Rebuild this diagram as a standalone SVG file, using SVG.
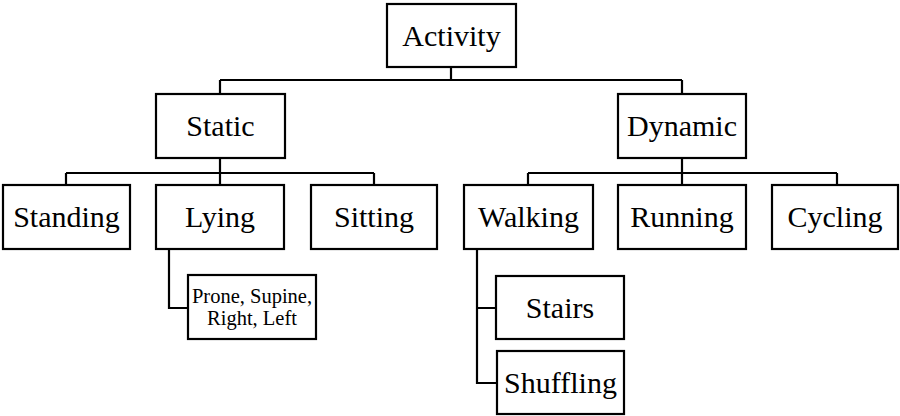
<svg xmlns="http://www.w3.org/2000/svg" width="900" height="416" viewBox="0 0 900 416">
<style>
.box{fill:#fff;stroke:#000;stroke-width:2.2}
.lbl{font-family:'Liberation Serif','Times New Roman',Times,'Nimbus Roman','DejaVu Serif',serif;font-size:30px;fill:#000;text-anchor:middle}
.sm{font-family:'Liberation Serif','Times New Roman',Times,'Nimbus Roman','DejaVu Serif',serif;font-size:20.5px;fill:#000;text-anchor:middle}
.ln{fill:none;stroke:#000;stroke-width:2.2}
</style>
<rect width="900" height="416" fill="#fff"/>
<g id="connectors">
<path class="ln" d="M451,67 V80 M220,80 H682 M220,80 V94 M682,80 V94"/>
<path class="ln" d="M220,158 V185 M66,173 H374 M66,173 V185 M374,173 V185"/>
<path class="ln" d="M682,158 V185 M528,173 H837 M528,173 V185 M837,173 V185"/>
<path class="ln" d="M169,249 V308 H188"/>
<path class="ln" d="M477,249 V383 H497 M477,308 H496"/>
</g>
<g id="activity"><rect class="box" x="387" y="4" width="129" height="63"/><text class="lbl" x="451.5" y="45.5" font-family="Liberation Serif">Activity</text></g>
<g id="static"><rect class="box" x="156" y="94" width="129" height="64"/><text class="lbl" x="220.5" y="136">Static</text></g>
<g id="dynamic"><rect class="box" x="618" y="94" width="128" height="64"/><text class="lbl" x="682" y="136">Dynamic</text></g>
<g id="standing"><rect class="box" x="3" y="185" width="127" height="64"/><text class="lbl" x="66.5" y="227">Standing</text></g>
<g id="lying"><rect class="box" x="156" y="185" width="128" height="64"/><text class="lbl" x="220" y="227">Lying</text></g>
<g id="sitting"><rect class="box" x="311" y="185" width="126" height="64"/><text class="lbl" x="374" y="227">Sitting</text></g>
<g id="walking"><rect class="box" x="464" y="185" width="129" height="64"/><text class="lbl" x="528.5" y="227">Walking</text></g>
<g id="running"><rect class="box" x="618" y="185" width="128" height="64"/><text class="lbl" x="682" y="227">Running</text></g>
<g id="cycling"><rect class="box" x="772" y="185" width="126" height="64"/><text class="lbl" x="835" y="227">Cycling</text></g>
<g id="lying-sub"><rect class="box" x="188" y="275" width="128" height="64"/><text class="sm" x="252" y="303">Prone, Supine,</text><text class="sm" x="252" y="325">Right, Left</text></g>
<g id="stairs"><rect class="box" x="496" y="276" width="128" height="63"/><text class="lbl" x="560" y="318">Stairs</text></g>
<g id="shuffling"><rect class="box" x="497" y="351" width="127" height="63"/><text class="lbl" x="560.5" y="393">Shuffling</text></g>
</svg>
